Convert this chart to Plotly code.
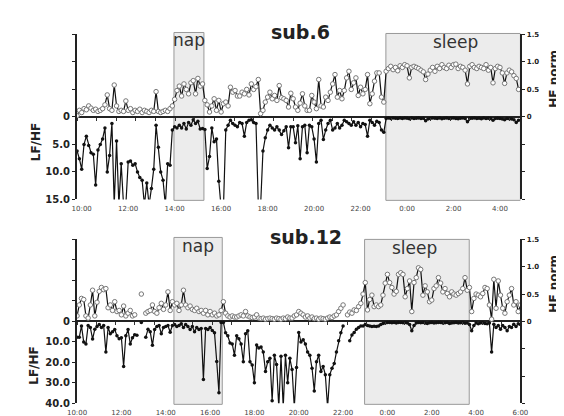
import numpy as np
import plotly.graph_objects as go

# ---------------- data: sub.6 (6-min samples from 9:48) ----------------
hf_6 = [
    0.02, 0.12, 0.08, 0.15, 0.13, 0.2, 0.16, 0.12, 0.14, 0.1,
    0.12, 0.15, 0.22, 0.4, 0.15, 0.12, 0.58, 0.2, 0.1, 0.12,
    0.1, 0.29, 0.12, 0.15, 0.08, 0.12, 0.1, 0.14, 0.08, 0.12,
    0.1, 0.08, 0.12, 0.1, 0.46, 0.1, 0.08, 0.1, 0.12, 0.1,
    0.15, 0.2, 0.32, 0.48, 0.56, 0.38, 0.6, 0.5, 0.42, 0.62,
    0.66, 0.42, 0.7, 0.56, 0.6, 0.3, 0.22, 0.09, 0.2, 0.33,
    0.12, 0.3, 0.09, 0.24, 0.27, 0.2, 0.54, 0.45, 0.48, 0.38,
    0.38, 0.45, 0.42, 0.5, 0.4, 0.6, 0.5, 0.55, 0.68, 0.06,
    0.12, 0.27, 0.36, 0.45, 0.33, 0.39, 0.3, 0.57, 0.35, 0.33,
    0.3, 0.18, 0.43, 0.33, 0.18, 0.12, 0.25, 0.42, 0.2, 0.12,
    0.12, 0.39, 0.27, 0.15, 0.68, 0.2, 0.18, 0.36, 0.3, 0.45,
    0.6, 0.77, 0.36, 0.48, 0.33, 0.48, 0.71, 0.83, 0.5, 0.62,
    0.71, 0.39, 0.54, 0.42, 0.5, 0.77, 0.24, 0.42, 0.65, 0.8,
    0.8, 0.36, 0.27, 0.83, 0.88, 0.92, 0.86, 0.9, 0.84, 0.93,
    0.9, 0.95, 0.93, 0.71, 0.9, 0.92, 0.9, 0.88, 0.85, 0.82,
    0.68, 0.78, 0.85, 0.9, 0.83, 0.92, 0.88, 0.95, 0.9, 0.88,
    0.94, 0.9, 0.95, 0.96, 0.88, 0.92, 0.9, 0.85, 0.6, 0.92,
    0.95, 0.9, 0.88, 0.92, 0.9, 0.88, 0.95, 0.85, 0.9, 0.62,
    0.88, 0.92, 0.9, 0.8, 0.61, 0.8, 0.85, 0.82, 0.75, 0.7, 0.5,
]
lf_6 = [
    6.2, 7.6, 9.5, 5.0, 3.5, 5.2, 6.5, 6.8, 12.4, 6.0,
    5.0, 4.0, 2.0, 10.0, 7.0, 1.2, 16.0, 4.4, 16.0, 8.5,
    16.0, 16.0, 8.2, 8.0, 8.8, 8.5, 10.0, 11.0, 11.5, 16.0,
    12.0, 16.0, 13.0, 9.5, 1.5, 5.5, 10.0, 11.5, 16.0, 8.5,
    8.8, 2.4, 1.8, 2.0, 1.5, 2.0, 1.2, 2.2, 1.0, 1.5,
    0.5, 1.2, 0.8, 2.2, 2.1, 2.3, 9.4, 7.2, 2.0, 4.5,
    4.0, 11.7, 16.5, 16.5, 2.4, 1.5, 0.6, 1.2, 1.5, 1.8,
    1.0, 1.2, 3.5, 1.0, 0.6, 0.5, 1.0, 1.2, 16.0, 16.0,
    6.2, 3.8, 2.4, 1.5, 2.0, 2.4, 1.8, 2.4, 3.2, 2.5,
    1.8, 5.6, 1.8, 1.8, 4.7, 1.6, 7.6, 1.8, 1.5, 6.5,
    1.5, 1.8, 4.0, 8.2, 1.2, 0.6, 4.1, 2.4, 1.2, 0.6,
    2.4, 2.0, 1.2, 2.0, 1.5, 0.6, 0.9, 1.2, 1.5, 0.9,
    1.5, 1.0, 1.8, 1.2, 1.4, 3.5, 0.6, 1.0, 1.5, 0.8,
    1.0, 2.4, 2.8, 0.3, 0.2, 0.3, 0.2, 0.25, 0.3, 0.2,
    0.3, 0.2, 0.25, 0.35, 0.2, 0.3, 0.25, 0.2, 0.3, 0.25,
    0.7, 0.4, 0.3, 0.2, 0.25, 0.3, 0.2, 0.35, 0.25, 0.2,
    0.3, 0.25, 0.2, 0.3, 0.35, 0.25, 0.2, 0.3, 0.9, 0.3,
    0.25, 0.2, 0.3, 0.25, 0.35, 0.2, 0.3, 0.25, 0.3, 0.6,
    0.3, 0.25, 0.3, 0.4, 0.5, 0.3, 0.35, 0.4, 0.5, 1.0, 0.6,
]
start_6 = 9.8          # 9:48, hours
nap_6 = [13.97, 15.26]
sleep_6 = [23.09, 28.88]

# ---------------- data: sub.12 (6-min samples from 10:00) ----------------
hf_12 = [
    0.1, 0.3, 0.42, 0.4, 0.1, 0.06, 0.3, 0.57, 0.1, 0.35,
    0.55, 0.62, 0.58, 0.6, 0.25, 0.3, 0.2, 0.36, 0.18, 0.2,
    0.12, 0.28, 0.1, 0.15, 0.2, 0.1, 0.12, None, None, 0.5,
    None, 0.15, 0.18, 0.2, 0.3, 0.18, 0.15, 0.25, 0.33, 0.22,
    0.3, 0.54, 0.2, 0.36, 0.3, 0.33, 0.2, 0.3, 0.57, 0.3,
    0.25, 0.28, 0.22, 0.2, 0.24, 0.18, 0.2, 0.15, 0.2, 0.12,
    0.18, 0.12, 0.15, 0.1, 0.12, 0.2, 0.36, 0.15, 0.1, 0.08,
    0.1, 0.08, 0.08, 0.1, 0.12, 0.1, 0.18, 0.1, 0.08, 0.07,
    0.08, 0.12, 0.06, 0.05, 0.06, 0.04, 0.05, 0.06, 0.05, 0.04,
    0.06, 0.05, 0.04, 0.06, 0.05, 0.08, 0.06, 0.06, 0.1, 0.12,
    0.18, 0.15, 0.12, 0.08, 0.1, 0.06, 0.08, 0.05, 0.06, 0.04,
    0.06, 0.05, 0.04, 0.06, 0.08, 0.07, 0.1, 0.12, 0.18, 0.24,
    0.3, None, 0.12, 0.17, 0.15, 0.21, 0.2, 0.27, 0.33, 0.5,
    0.71, 0.21, 0.4, 0.48, 0.27, 0.3, 0.27, 0.3, 0.48, 0.7,
    0.86, 0.71, 0.62, 0.5, 0.55, 0.86, 0.89, 0.86, 0.45, 0.6,
    0.74, 0.18, 0.71, 0.8, 0.98, 0.95, 0.48, 0.65, 0.54, 0.36,
    0.39, 0.6, 0.65, 0.8, 0.7, 0.54, 0.6, 0.51, 0.45, 0.54,
    0.5, 0.48, 0.51, 0.54, 0.6, 0.8, 0.57, 0.62, 0.18, 0.42,
    0.5, 0.48, 0.45, 0.51, 0.62, 0.6, 0.3, 0.04, 0.77, 0.24,
    0.74, 0.48, 0.24, 0.15, 0.36, 0.48, 0.6, 0.3, 0.36, 0.18,
    0.3,
]
lf_12 = [
    7.8, 7.8, 2.2, 10, 11, 2, 3, 8.6, 3.9, 2.5,
    1.5, 3, 2, 15, 3, 6, 5, 4, 7, 8.5,
    8, 22, 7, 4, 11, 8, 6.5, 6.8, None, 0.5,
    None, 7.7, 3.9, 5, 11.7, 4, 2.5, 2, 6, 3,
    2.5, 2, 5.3, 2, 1.5, 2.5, 2, 1.2, 3, 1.5,
    2.5, 4, 2.5, 5, 3, 4, 3.5, 28.4, 3.5, 4,
    3, 4.5, 5.6, 19.6, 34.8, 0.5, 0.5, 5.6, 7, 10.6,
    11, 16.5, 7, 8.5, 11, 19.7, 6, 4.6, 19.7, 21.3,
    30, 11.5, 13, 12.5, 15, 24.4, 19.7, 18, 38.7, 16.5,
    21, 42, 17, 42, 16.5, 30, 18, 23.5, 42, 22.5,
    5.4, 10, 9, 11, 15, 16.5, 22.9, 34, 19.7, 16.5,
    24.4, 22, 26, 42, 26, 22.9, 20.6, 15, 9.5, 5.6,
    2.2, None, None, 9.4, 6.7, 5.4, 3.8, 3, 2.2, 2.2,
    1.5, 2, 2.2, 2.5, 2.4, 2.5, 2.2, 1.5, 1, 0.8,
    0.6, 0.5, 0.7, 0.6, 0.8, 0.5, 0.6, 0.7, 0.6, 0.8,
    1.5, 4.6, 2, 0.8, 0.6, 0.7, 0.6, 0.8, 1, 0.7,
    0.6, 0.8, 0.7, 0.6, 0.5, 0.8, 0.7, 0.6, 1, 0.8,
    0.7, 0.6, 0.8, 0.7, 0.6, 0.9, 0.8, 1.5, 4.6, 2,
    0.8, 1.2, 0.8, 0.7, 1.0, 1.2, 0.8, 15, 1.4, 3,
    2, 3.8, 2, 3, 4.6, 2.5, 3, 1.4, 2.5, 1.2,
    1.5,
]
start_12 = 10.0
nap_12 = [14.37, 16.55]
sleep_12 = [22.97, 27.69]

step_h = 0.1  # 6-minute sampling interval in hours
t_6 = [round(start_6 + i * step_h, 2) for i in range(len(hf_6))]
t_12 = [round(start_12 + i * step_h, 2) for i in range(len(hf_12))]

tick_hours_6 = [10, 12, 14, 16, 18, 20, 22, 24, 26, 28]
tick_text_6 = ["10:00", "12:00", "14:00", "16:00", "18:00", "20:00", "22:00", "0:00", "2:00", "4:00"]
tick_hours_12 = [10, 12, 14, 16, 18, 20, 22, 24, 26, 28, 30]
tick_text_12 = ["10:00", "12:00", "14:00", "16:00", "18:00", "20:00", "22:00", "0:00", "2:00", "4:00", "6:00"]

# ---------------- figure ----------------
W, H = 564, 416
def px(x):
    return x / W
def py(y):
    return 1 - y / H

xdom = [px(61), px(519)]
top_dom = [py(192), py(23)]
bot_dom = [py(401), py(233)]
top_zero = (top_dom[0] + top_dom[1]) / 2
bot_zero = (bot_dom[0] + bot_dom[1]) / 2
xr_6 = [9.8, 28.88]
xr_12 = [10.0, 30.0]

FONT = "DejaVu Sans"
fig = go.Figure()

hf_style = dict(mode="lines+markers", line=dict(color="#111", width=1.2),
                marker=dict(size=4.5, color="white", line=dict(color="#777", width=1)),
                connectgaps=False, showlegend=False, hoverinfo="skip")
lf_style = dict(mode="lines+markers", line=dict(color="#111", width=1.2),
                marker=dict(size=3.5, color="#111"),
                connectgaps=False, showlegend=False, hoverinfo="skip")

# main subplots
fig.add_trace(go.Scatter(x=t_6, y=lf_6, xaxis="x", yaxis="y", **lf_style))
fig.add_trace(go.Scatter(x=t_6, y=hf_6, xaxis="x", yaxis="y2", **hf_style))
fig.add_trace(go.Scatter(x=t_12, y=lf_12, xaxis="x3", yaxis="y3", **lf_style))
fig.add_trace(go.Scatter(x=t_12, y=hf_12, xaxis="x3", yaxis="y4", **hf_style))
# empty carriers for the tick axes on the zero line
fig.add_trace(go.Scatter(x=[None], y=[None], xaxis="x2", yaxis="y", showlegend=False, hoverinfo="skip"))
fig.add_trace(go.Scatter(x=[None], y=[None], xaxis="x4", yaxis="y3", showlegend=False, hoverinfo="skip"))

xlab = dict(showline=False, showgrid=False, zeroline=False, ticks="",
            tickfont=dict(family=FONT, size=7, color="#444"), ticklabelstandoff=4)
xzero = dict(showline=False, showgrid=False, zeroline=False, ticks="outside",
             ticklen=3, tickwidth=1, tickcolor="#333", showticklabels=False, anchor="free")
yleft = dict(showline=True, linecolor="#222", linewidth=2, showgrid=False,
             zeroline=True, zerolinecolor="#222", zerolinewidth=2,
             ticks="outside", ticklen=3, tickcolor="#222",
             tickfont=dict(family=FONT, size=10, color="#222", weight="bold"))
yright = dict(showline=True, linecolor="#222", linewidth=2, showgrid=False,
              zeroline=False, ticks="outside", ticklen=3, tickcolor="#222", side="right",
              tickfont=dict(family=FONT, size=7, color="#222", weight="bold"))

fig.update_layout(
    width=W, height=H, margin=dict(l=0, r=0, t=0, b=0),
    paper_bgcolor="white", plot_bgcolor="rgba(0,0,0,0)", showlegend=False,
    xaxis=dict(domain=xdom, anchor="y", range=xr_6, tickvals=tick_hours_6, ticktext=tick_text_6, **xlab),
    xaxis2=dict(domain=xdom, overlaying="x", range=xr_6, position=top_zero, tick0=9.8, dtick=0.845, **xzero),
    yaxis=dict(domain=top_dom, anchor="x", range=[15, -15],
               tickvals=[0, 5, 10, 15, -5, -10, -15], ticktext=["0", "5.0", "10.0", "15.0", "", "", ""], **yleft),
    yaxis2=dict(overlaying="y", anchor="x", range=[-1.5, 1.5],
                tickvals=[0, 0.5, 1.0, 1.5, -0.5, -1.0, -1.5], ticktext=["0", "0.5", "1.0", "1.5", "", "", ""], **yright),
    xaxis3=dict(domain=xdom, anchor="y3", range=xr_12, tickvals=tick_hours_12, ticktext=tick_text_12, **xlab),
    xaxis4=dict(domain=xdom, overlaying="x3", range=xr_12, position=bot_zero, tick0=10.0, dtick=0.87, **xzero),
    yaxis3=dict(domain=bot_dom, anchor="x3", range=[40, -40],
                tickvals=[0, 10, 20, 30, 40, -10, -20, -30, -40],
                ticktext=["0", "10.0", "20.0", "30.0", "40.0", "", "", "", ""], **yleft),
    yaxis4=dict(overlaying="y3", anchor="x3", range=[-1.5, 1.5],
                tickvals=[0, 0.5, 1.0, 1.5, -0.5, -1.0, -1.5], ticktext=["0", "0.5", "1.0", "1.5", "", "", ""], **yright),
)

box = dict(type="rect", yref="paper", fillcolor="#ececec", line=dict(color="#999", width=1), layer="below")
fig.add_shape(xref="x", x0=nap_6[0], x1=nap_6[1], y0=py(193), y1=py(21), **box)
fig.add_shape(xref="x", x0=sleep_6[0], x1=sleep_6[1], y0=py(193), y1=py(22), **box)
fig.add_shape(xref="x3", x0=nap_12[0], x1=nap_12[1], y0=py(402), y1=py(231), **box)
fig.add_shape(xref="x3", x0=sleep_12[0], x1=sleep_12[1], y0=py(402), y1=py(233), **box)

def ann(text, x, y, size, bold=False, angle=0, color="#222"):
    fig.add_annotation(text=text, x=px(x), y=py(y), xref="paper", yref="paper",
                       showarrow=False, textangle=angle, xanchor="center", yanchor="middle",
                       font=dict(family=FONT, size=size, color=color, weight="bold" if bold else "normal"))

ann("sub.6", 292, 20, 19, bold=True)
ann("sub.12", 297, 231, 19, bold=True)
ann("nap", 177, 29, 17, color="#333")
ann("sleep", 452, 31, 17, color="#333")
ann("nap", 186, 240, 17, color="#333")
ann("sleep", 410, 242, 17, color="#333")
ann("LF/HF", 18, 133, 12, bold=True, angle=-90)
ann("LF/HF", 17, 362, 12, bold=True, angle=-90)
ann("HF norm", 554, 68, 12, bold=True, angle=-90)
ann("HF norm", 554, 278, 12, bold=True, angle=-90)

fig.write_html("out.html")
